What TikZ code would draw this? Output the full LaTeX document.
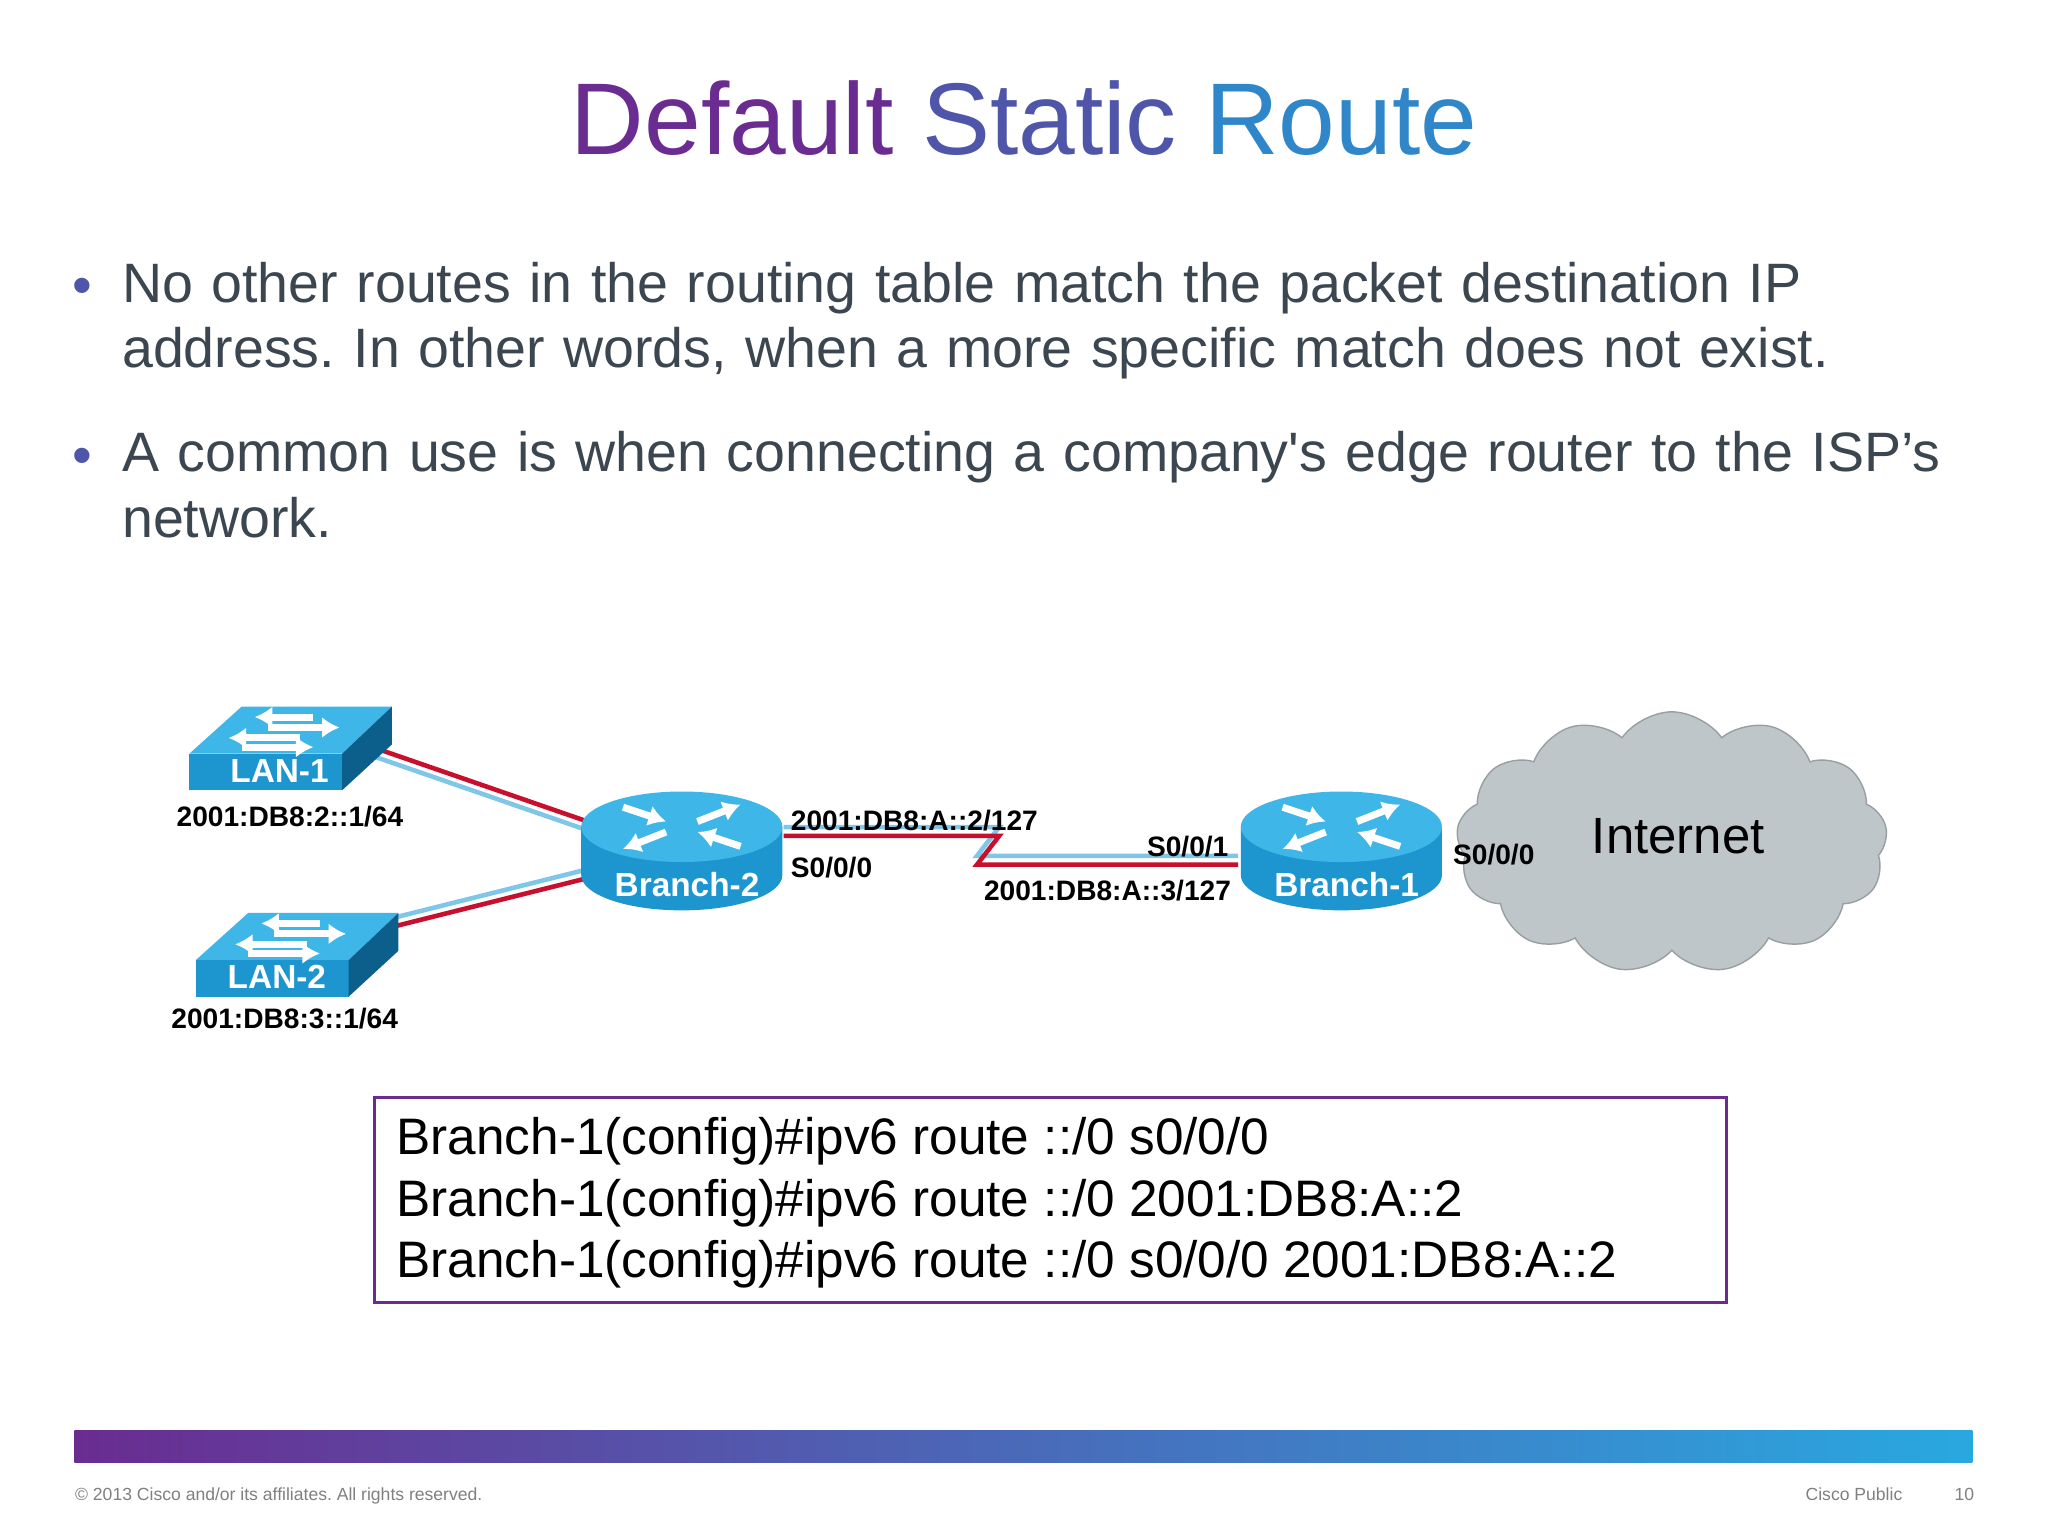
\documentclass[tikz,border=0pt]{standalone}
\usepackage{fontspec}
\setmainfont{Liberation Sans}
\usetikzlibrary{shapes.symbols}
\definecolor{cpurple}{HTML}{6A2C91}
\definecolor{cmid}{HTML}{4F55A8}
\definecolor{cblue}{HTML}{2F86C9}
\definecolor{ctext}{HTML}{3C4650}
\definecolor{icontop}{HTML}{3FB6E8}
\definecolor{iconfront}{HTML}{1D95CF}
\definecolor{iconside}{HTML}{0C5F8A}
\definecolor{linkred}{HTML}{C8102E}
\definecolor{linkblue}{HTML}{7FC6E8}
\definecolor{cloudgray}{HTML}{BFC6C9}
\definecolor{barmid}{HTML}{1F3C8F}
\definecolor{barright}{HTML}{29A8E0}
\tikzset{
  x=0.01306cm, y=-0.01306cm,
  lbl/.style={font=\bfseries\fontsize{8}{9}\selectfont, inner sep=0pt},
  dev/.style={font=\bfseries\fontsize{9.5}{10}\selectfont, text=white, inner sep=0pt},
  link/.style={draw=linkred, line width=1.3pt},
  shadow/.style={draw=linkblue, line width=1.3pt},
  arr/.style={white, line width=2pt, -{Latex[length=5pt,width=6pt]}},
}
\usetikzlibrary{arrows.meta}
\newcommand{\swicon}[2]{% #1 x, #2 y (top-left of front face)
  \fill[icontop] (#1,#2) -- (#1+40,#2-36) -- (#1+155,#2-36) -- (#1+117,#2) -- cycle;
  \fill[iconfront] (#1,#2) rectangle (#1+117,#2+28);
  \fill[iconside] (#1+117,#2) -- (#1+155,#2-36) -- (#1+155,#2-7) -- (#1+117,#2+28) -- cycle;
  \draw[arr] (#1+95,#2-28) -- (#1+50,#2-28);
  \draw[arr] (#1+60,#2-20) -- (#1+115,#2-20);
  \draw[arr] (#1+85,#2-12) -- (#1+30,#2-12);
  \draw[arr] (#1+40,#2-5) -- (#1+95,#2-5);
}
\newcommand{\rticon}[2]{% #1 cx, #2 cy of top ellipse
  \fill[iconfront] (#1-77,#2) -- (#1-77,#2+37) arc[start angle=180,end angle=0,x radius=77,y radius=27] -- (#1+77,#2) -- cycle;
  \fill[icontop] (#1,#2) ellipse[x radius=77,y radius=27];
  \draw[arr] (#1-45,#2-15) -- (#1-12,#2-4);
  \draw[arr] (#1+45,#2+15) -- (#1+12,#2+4);
  \draw[arr] (#1+12,#2-4) -- (#1+45,#2-17);
  \draw[arr] (#1-12,#2+4) -- (#1-45,#2+17);
}
\begin{document}
\frenchspacing
\begin{tikzpicture}
\useasboundingbox (0,0) rectangle (1568,1176);
\fill[white] (0,0) rectangle (1568,1176);
% title
\node[anchor=base, inner sep=0pt, font=\fontsize{29}{34}\selectfont] (title) at (784,118)
  {\textcolor{cpurple}{Default} \textcolor{cmid}{Static} \textcolor{cblue}{Route}};
% bullets
\node[anchor=base west, inner sep=0pt, text=cmid, font=\fontsize{16}{20}\selectfont] (b1) at (55,233) {•};
\node[anchor=north west, inner sep=0pt, text=ctext, align=left, text width=26cm,
  font=\fontsize{15.8}{18.6}\selectfont] (t1) at (93,200)
  {No other routes in the routing table match the packet destination IP\\address. In other words, when a more specific match does not exist.};
\node[anchor=base west, inner sep=0pt, text=cmid, font=\fontsize{16}{20}\selectfont] (b2) at (55,363) {•};
\node[anchor=north west, inner sep=0pt, text=ctext, align=left, text width=26cm,
  font=\fontsize{15.8}{18.6}\selectfont] (t2) at (93,330)
  {A common use is when connecting a company\textquotesingle s edge router to the ISP’s\\network.};
% connection points
\coordinate (s1) at (288,573);
\coordinate (s2) at (303,709);
\coordinate (r2w) at (447,628);
\coordinate (r2w2) at (447,673);
\coordinate (r2e) at (600,640);
\coordinate (k1) at (765,640);
\coordinate (k2) at (748,662);
\coordinate (r1w) at (948,662);
% links
\draw[shadow] ([yshift=-2.5]s1) -- ([yshift=-2.5]r2w);
\draw[link] (s1) -- (r2w);
\draw[shadow] ([yshift=2.5]s2) -- ([yshift=2.5]r2w2);
\draw[link] (s2) -- (r2w2);
\draw[shadow] ([yshift=2.5]r2e) -- ([yshift=2.5]k1) -- ([yshift=2.5]k2) -- ([yshift=2.5]r1w);
\draw[link] (r2e) -- (k1) -- (k2) -- (r1w);
% cloud
\node[cloud, cloud puffs=13, cloud puff arc=110, aspect=1.6, fill=cloudgray, draw=cloudgray!80!black,
  minimum width=330*0.01306cm, minimum height=200*0.01306cm] (inet) at (1280,645) {};
\node[inner sep=0pt, font=\fontsize{14.5}{16}\selectfont] (inettxt) at (1285,640) {Internet};
% devices
\swicon{145}{577}
\node[dev] (lan1) at (214,590) {LAN-1};
\swicon{150}{735}
\node[dev] (lan2) at (212,748) {LAN-2};
\rticon{522}{633}
\node[dev] (br2) at (526,677) {Branch-2};
\rticon{1027}{633}
\node[dev] (br1) at (1031,677) {Branch-1};
% labels
\node[lbl] (a1) at (222,625) {2001:DB8:2::1/64};
\node[lbl] (a2) at (218,780) {2001:DB8:3::1/64};
\node[lbl, anchor=west] (a3) at (605,628) {2001:DB8:A::2/127};
\node[lbl, anchor=west] (a4) at (605,664) {S0/0/0};
\node[lbl, anchor=east] (a5) at (941,648) {S0/0/1};
\node[lbl, anchor=east] (a6) at (943,682) {2001:DB8:A::3/127};
\node[lbl, anchor=west] (a7) at (1112,654) {S0/0/0};
% config box
\draw[cpurple, line width=0.9pt] (287,840) rectangle (1322,997);
\node[anchor=north west, inner sep=0pt, align=left, font=\fontsize{14.6}{17.5}\selectfont] (cfg) at (303,855)
  {Branch-1(config)\#ipv6 route ::/0 s0/0/0\\Branch-1(config)\#ipv6 route ::/0 2001:DB8:A::2\\Branch-1(config)\#ipv6 route ::/0 s0/0/0 2001:DB8:A::2};
% footer
\shade[left color=cpurple, middle color=barmid, right color=barright] (57,1095) rectangle (1510,1120);
\node[anchor=base west, inner sep=0pt, text=gray, font=\fontsize{5}{6}\selectfont] (copy) at (57,1149) {© 2013 Cisco and/or its affiliates. All rights reserved.};
\node[anchor=base east, inner sep=0pt, text=gray, font=\fontsize{5}{6}\selectfont] (pub) at (1457,1149) {Cisco Public};
\node[anchor=base east, inner sep=0pt, text=gray, font=\fontsize{5}{6}\selectfont] (pg) at (1512,1149) {10};
\end{tikzpicture}
\end{document}
